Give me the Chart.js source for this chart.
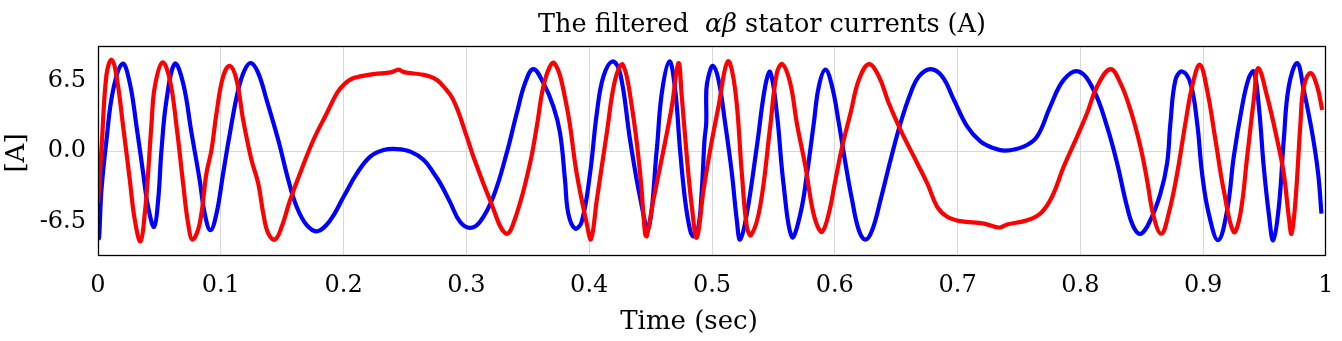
<!DOCTYPE html>
<html>
<head>
<meta charset="utf-8">
<script src="https://cdn.jsdelivr.net/npm/chart.js@4/dist/chart.umd.min.js"></script>
<style>
  html, body { margin: 0; padding: 0; background: #ffffff; }
  #wrap { width: 1342px; height: 341px; position: relative; }
</style>
</head>
<body>
<div id="wrap"><canvas id="c" width="1342" height="341"></canvas></div>
<script>
// ---- data ----
const titleMain1 = "The filtered  ";
const titleGreek = "\u03B1\u03B2";
const titleMain2 = " stator currents (A)";
const xTitle = "Time (sec)";
const yTitle = "[A]";

const xTickValues = [0, 0.1, 0.2, 0.3, 0.4, 0.5, 0.6, 0.7, 0.8, 0.9, 1];
const xTickLabels = ["0", "0.1", "0.2", "0.3", "0.4", "0.5", "0.6", "0.7", "0.8", "0.9", "1"];
const yTickValues = [-6.5, 0, 6.5];
const yTickLabels = ["-6.5", "0.0", "6.5"];
const xMin = 0, xMax = 1;
const yMin = -9.65, yMax = 9.65;

// red series (time, current)
const redTime = [0, 0.003, 0.0069, 0.011, 0.0151, 0.0205, 0.0259, 0.03, 0.0346, 0.0381, 0.0408, 0.0436, 0.0463, 0.0525, 0.0585, 0.064, 0.0693, 0.0734, 0.077, 0.0828, 0.0883, 0.0924, 0.0965, 0.1019, 0.1074, 0.1128, 0.1182, 0.125, 0.1305, 0.1346, 0.1387, 0.1441, 0.1496, 0.1564, 0.1645, 0.1754, 0.1863, 0.1945, 0.2, 0.2081, 0.2245, 0.2381, 0.2449, 0.249, 0.2653, 0.2735, 0.2789, 0.2893, 0.3003, 0.3057, 0.3192, 0.3323, 0.341, 0.3518, 0.3573, 0.364, 0.3716, 0.3817, 0.3898, 0.398, 0.4015, 0.4062, 0.4143, 0.4211, 0.4273, 0.4347, 0.4415, 0.4455, 0.4469, 0.4523, 0.4605, 0.4673, 0.4727, 0.4754, 0.4795, 0.4836, 0.4876, 0.4931, 0.4985, 0.5053, 0.5129, 0.5189, 0.5243, 0.5284, 0.5319, 0.5392, 0.5474, 0.5528, 0.5574, 0.5637, 0.5691, 0.5761, 0.5815, 0.5856, 0.5897, 0.5951, 0.6005, 0.606, 0.6128, 0.6196, 0.6277, 0.6359, 0.644, 0.6535, 0.6644, 0.6753, 0.6834, 0.6916, 0.7024, 0.7215, 0.7334, 0.7403, 0.7566, 0.7674, 0.7769, 0.7864, 0.7973, 0.8054, 0.8136, 0.8244, 0.8326, 0.8407, 0.8489, 0.8543, 0.8597, 0.866, 0.8719, 0.8788, 0.8855, 0.891, 0.8972, 0.9032, 0.91, 0.9167, 0.9249, 0.9303, 0.9358, 0.9412, 0.9448, 0.9521, 0.9603, 0.9656, 0.9697, 0.9719, 0.9752, 0.9792, 0.9819, 0.9874, 0.9928, 0.9969];
const redCurrent = [-4.8, 0.5, 7.0, 8.39, 6.85, 2.24, -2.67, -6.36, -8.3, -5.75, -2.06, 2.55, 5.93, 8.14, 6.54, 2.24, -2.98, -6.67, -8.14, -6.67, -2.06, 0.09, 3.47, 6.85, 7.83, 6.54, 2.86, -0.83, -2.98, -5.75, -7.6, -8.14, -6.97, -4.52, -2.06, 1.01, 3.47, 5.31, 6.08, 6.7, 7.07, 7.22, 7.47, 7.25, 7.0, 6.7, 6.24, 4.7, 1.32, -0.52, -4.5, -7.6, -5.75, -1.13, 2.24, 6.54, 8.08, 4.1, -2.06, -6.67, -8.1, -4.5, 1.63, 6.54, 7.93, 4.1, -2.06, -7.6, -7.83, -4.5, 0.09, 4.1, 8.08, 5.0, -0.52, -5.13, -7.96, -3.6, 0.09, 4.09, 8.23, 5.6, -2.06, -6.97, -7.74, -5.1, 2.24, 7.16, 7.99, 6.24, 2.55, -1.44, -5.13, -6.82, -7.43, -5.75, -2.67, 0.4, 3.47, 6.54, 7.99, 6.85, 4.39, 1.94, -0.52, -2.98, -5.13, -6.05, -6.45, -6.67, -7.03, -6.76, -6.36, -5.75, -4.2, -1.44, 1.32, 3.47, 5.93, 7.53, 6.24, 3.8, 0.4, -2.67, -6.05, -7.6, -5.75, -2.06, 2.55, 5.93, 7.93, 5.6, 1.0, -3.6, -7.44, -5.75, -0.52, 4.7, 7.62, 5.0, 1.0, -2.06, -6.05, -7.6, -4.5, 2.55, 5.93, 7.16, 5.93, 3.78];

// blue series (time, current)
const blueTime = [0, 0.0008, 0.0028, 0.0069, 0.0123, 0.02, 0.0259, 0.0314, 0.0368, 0.0408, 0.0457, 0.049, 0.0517, 0.0558, 0.0626, 0.0693, 0.0762, 0.0828, 0.0869, 0.0916, 0.0965, 0.1019, 0.1074, 0.1142, 0.1196, 0.1245, 0.1305, 0.1373, 0.1468, 0.155, 0.1618, 0.17, 0.1787, 0.1891, 0.2, 0.2108, 0.2217, 0.2326, 0.2435, 0.2544, 0.2653, 0.2735, 0.2789, 0.2867, 0.2948, 0.303, 0.3111, 0.3219, 0.3328, 0.341, 0.3478, 0.3545, 0.3627, 0.3708, 0.3763, 0.3803, 0.383, 0.3885, 0.3939, 0.4007, 0.4062, 0.4116, 0.4189, 0.4252, 0.4333, 0.4415, 0.4482, 0.455, 0.4591, 0.4653, 0.47, 0.474, 0.4781, 0.4822, 0.4849, 0.4889, 0.4917, 0.4939, 0.4953, 0.4954, 0.4971, 0.5007, 0.5053, 0.5107, 0.5162, 0.5202, 0.5229, 0.5284, 0.5365, 0.5433, 0.5474, 0.5528, 0.5582, 0.5651, 0.572, 0.5774, 0.5829, 0.587, 0.5924, 0.5978, 0.6033, 0.6087, 0.6141, 0.6196, 0.625, 0.6304, 0.6372, 0.6454, 0.6535, 0.6617, 0.6685, 0.678, 0.6875, 0.697, 0.7079, 0.7188, 0.7296, 0.7389, 0.7538, 0.7647, 0.7755, 0.7864, 0.7986, 0.8108, 0.8217, 0.8299, 0.838, 0.8434, 0.8494, 0.857, 0.8652, 0.8706, 0.8733, 0.8774, 0.8828, 0.8896, 0.8951, 0.8991, 0.9045, 0.9122, 0.9195, 0.9249, 0.9317, 0.9371, 0.9412, 0.9453, 0.9493, 0.9534, 0.957, 0.9616, 0.9656, 0.9697, 0.9765, 0.9819, 0.9888, 0.9936, 0.9963];
const blueCurrent = [-5.0, -8.0, -3.6, 1.0, 5.6, 8.02, 6.24, 2.24, -2.06, -5.13, -6.97, -4.5, 0.09, 4.7, 8.02, 6.24, 1.63, -2.67, -5.75, -7.28, -5.75, -2.06, 1.63, 5.62, 7.47, 8.08, 7.16, 4.7, 1.01, -2.67, -5.13, -6.82, -7.37, -6.36, -4.21, -2.06, -0.52, 0.09, 0.18, -0.06, -0.83, -2.06, -3.0, -4.7, -6.5, -7.07, -6.5, -4.2, -0.2, 3.47, 6.24, 7.53, 6.24, 4.1, 1.63, -2.67, -5.75, -7.13, -6.5, -2.06, 3.47, 6.85, 8.23, 7.16, 1.0, -4.3, -7.13, 0.09, 5.3, 8.23, 5.62, 0.09, -4.52, -7.28, -7.83, -6.97, -3.6, 1.01, 2.55, 5.62, 6.85, 7.83, 6.54, 2.55, -2.06, -6.36, -8.14, -5.75, 0.4, 5.93, 7.25, 3.47, -2.98, -7.9, -5.75, -2.06, 2.55, 5.93, 7.47, 5.93, 2.55, -1.14, -4.52, -7.28, -8.14, -7.28, -4.52, -0.83, 2.55, 5.31, 6.85, 7.53, 6.85, 4.7, 2.24, 0.86, 0.25, 0.03, 0.4, 1.32, 4.1, 6.54, 7.31, 5.6, 2.24, -1.13, -5.13, -7.0, -7.6, -6.36, -3.9, -1.13, 2.55, 6.54, 7.31, 6.24, 2.55, -2.06, -5.75, -8.2, -5.44, -0.52, 4.1, 6.7, 7.31, 4.1, -1.44, -5.75, -8.2, -5.13, 1.0, 5.93, 8.08, 5.6, 1.63, -2.06, -5.75];

const redColor = "#ff0000";
const blueColor = "#0000ff";
const gridColor = "#d9d9d9";
const fontFamily = "'DejaVu Serif', 'Liberation Serif', serif";

function toPoints(ts, vs) { return ts.map((t, i) => ({ x: t, y: vs[i] })); }

const decorPlugin = {
  id: 'decor',
  afterDatasetsDraw(chart) {
    const ctx = chart.ctx;
    const a = chart.chartArea;
    ctx.save();
    ctx.strokeStyle = '#000000';
    ctx.lineWidth = 1.3;
    ctx.strokeRect(a.left + 0.5, a.top + 0.5, a.right - a.left - 1, a.bottom - a.top - 1);
    ctx.restore();
  },
  afterDraw(chart) {
    const ctx = chart.ctx;
    ctx.save();
    ctx.fillStyle = '#000000';
    // title
    const f1 = "25.5px " + fontFamily;
    const f2 = "italic 25.5px " + fontFamily;
    ctx.font = f1;
    const w1 = ctx.measureText(titleMain1).width;
    const w3 = ctx.measureText(titleMain2).width;
    ctx.font = f2;
    const w2 = ctx.measureText(titleGreek).width;
    const total = w1 + w2 + w3;
    let x = 762 - total / 2;
    const by = 32;
    ctx.textBaseline = 'alphabetic';
    ctx.textAlign = 'left';
    ctx.font = f1; ctx.fillText(titleMain1, x, by); x += w1;
    ctx.font = f2; ctx.fillText(titleGreek, x, by); x += w2;
    ctx.font = f1; ctx.fillText(titleMain2, x, by);
    // x title
    ctx.font = "26px " + fontFamily;
    ctx.textAlign = 'center';
    ctx.textBaseline = 'middle';
    ctx.fillText(xTitle, 689, 322);
    // y title
    ctx.translate(17, 153);
    ctx.rotate(-Math.PI / 2);
    ctx.fillText(yTitle, 0, 0);
    ctx.restore();
  }
};

const lineStyle = { borderWidth: 4.2, pointRadius: 0, fill: false, tension: 0.4 };

new Chart(document.getElementById('c'), {
  type: 'line',
  data: {
    datasets: [
      Object.assign({ label: 'red', data: toPoints(redTime, redCurrent), borderColor: redColor, backgroundColor: redColor }, lineStyle),
      Object.assign({ label: 'blue', data: toPoints(blueTime, blueCurrent), borderColor: blueColor, backgroundColor: blueColor }, lineStyle)
    ]
  },
  options: {
    responsive: false,
    animation: false,
    events: [],
    layout: { padding: { top: 46, right: 16, left: 0, bottom: 0 } },
    plugins: { legend: { display: false }, tooltip: { enabled: false }, title: { display: false } },
    scales: {
      x: {
        type: 'linear', min: xMin, max: xMax,
        afterBuildTicks(scale) { scale.ticks = xTickValues.map(v => ({ value: v })); },
        afterFit(scale) { scale.height = 85; scale.paddingLeft = 0; scale.paddingRight = 0; },
        border: { display: false },
        grid: {
          drawTicks: false, lineWidth: 1,
          color: (c) => (c.tick && (c.tick.value === xMin || c.tick.value === xMax)) ? 'rgba(0,0,0,0)' : gridColor
        },
        ticks: {
          padding: 15, color: '#000000', maxRotation: 0, autoSkip: false,
          font: { family: fontFamily, size: 24 },
          callback: (v, i) => xTickLabels[i]
        }
      },
      y: {
        type: 'linear', min: yMin, max: yMax,
        afterBuildTicks(scale) { scale.ticks = yTickValues.map(v => ({ value: v })); },
        afterFit(scale) { scale.width = 98; scale.paddingTop = 0; scale.paddingBottom = 0; },
        border: { display: false },
        grid: {
          drawTicks: false, lineWidth: 1,
          color: (c) => (c.tick && c.tick.value === 0) ? gridColor : 'rgba(0,0,0,0)'
        },
        ticks: {
          padding: 12, color: '#000000', autoSkip: false,
          font: { family: fontFamily, size: 24 },
          callback: (v, i) => yTickLabels[i]
        }
      }
    }
  },
  plugins: [decorPlugin]
});
</script>
</body>
</html>
